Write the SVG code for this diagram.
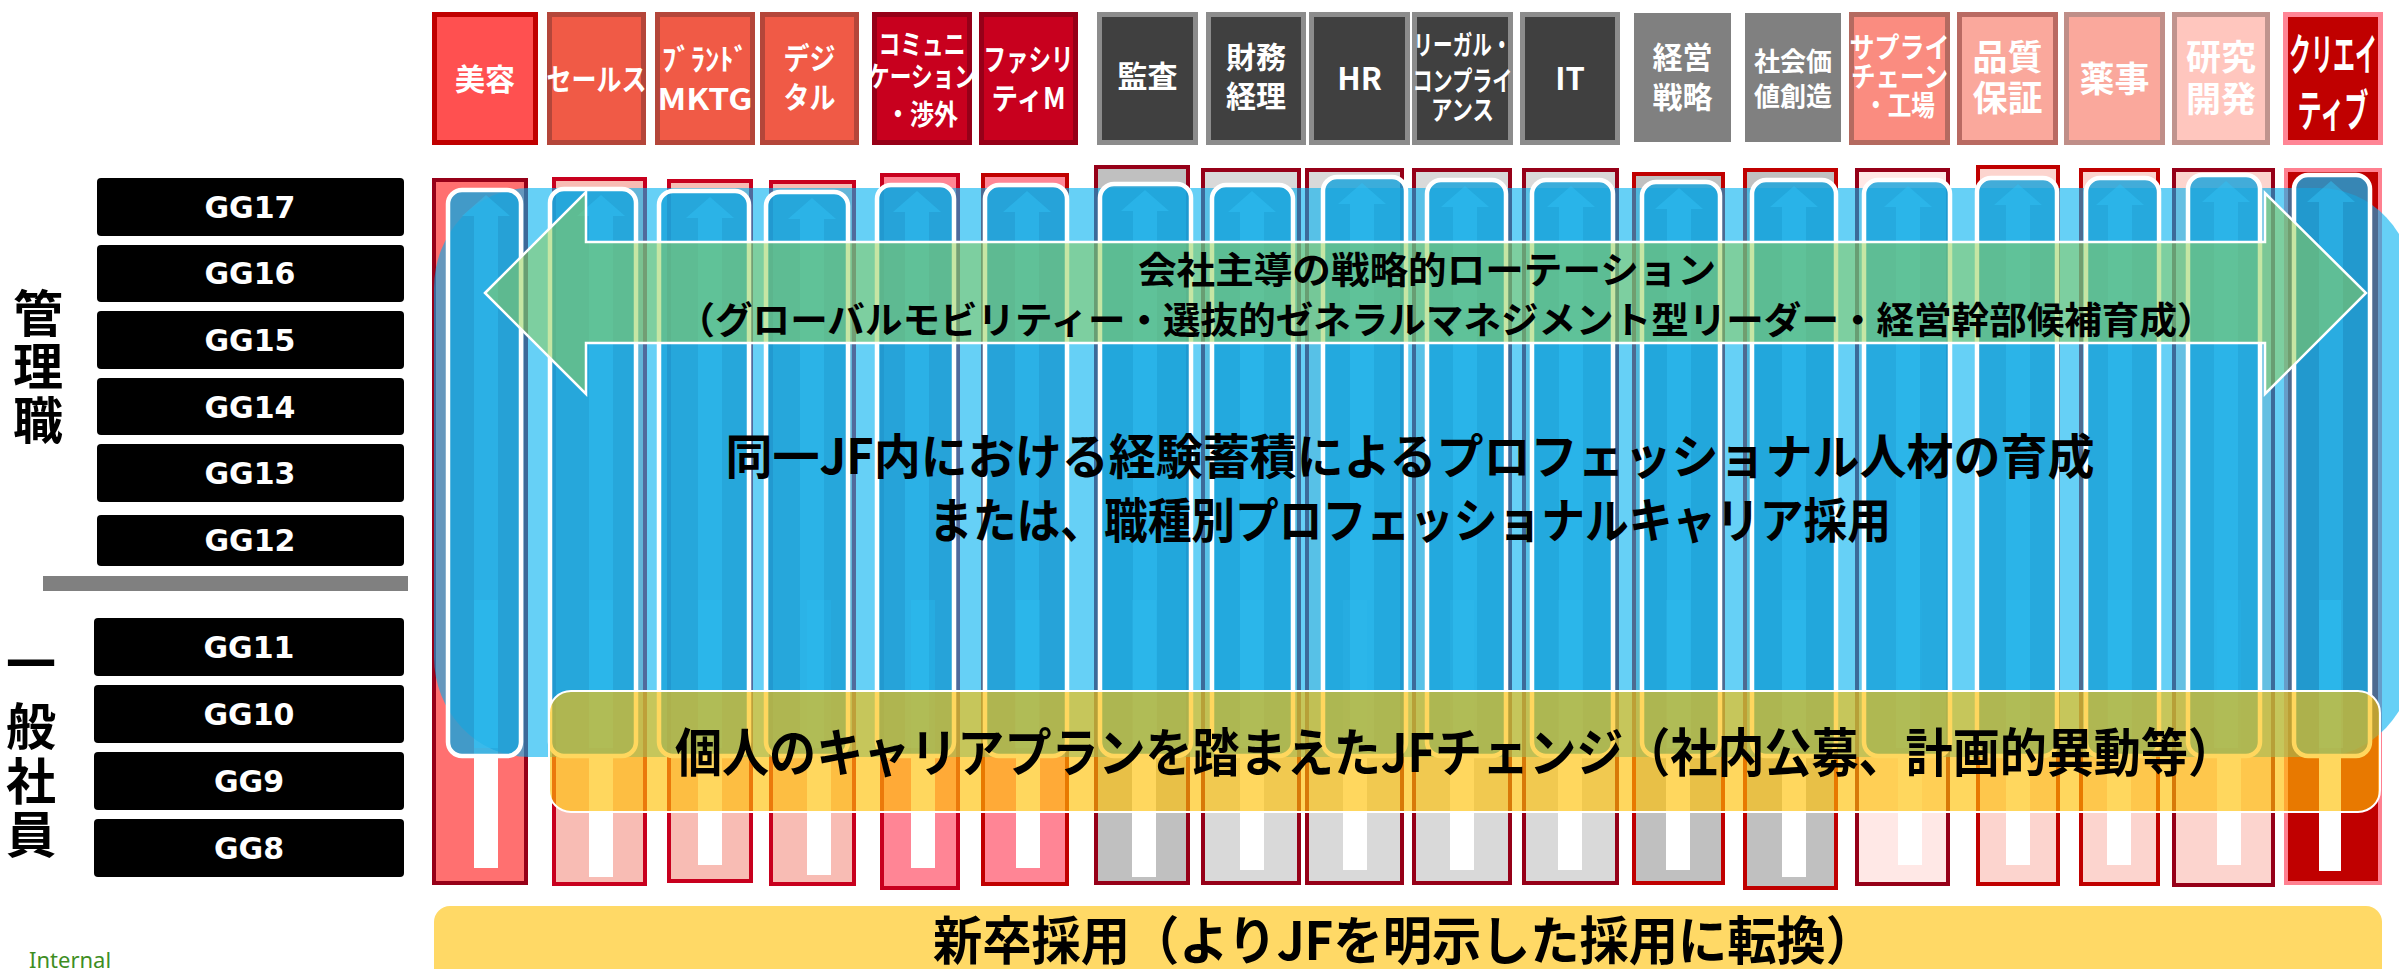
<svg xmlns="http://www.w3.org/2000/svg" width="2399" height="969" viewBox="0 0 2399 969">
<style>
.jp{font-family:"Noto Sans CJK JP","Noto Sans CJK SC",sans-serif;font-weight:700}
.hd{fill:#fff;text-anchor:middle}
.mid{text-anchor:middle;fill:#000}
.gg rect{fill:#000}
.gg text{font-family:"DejaVu Sans",sans-serif;font-weight:700;font-size:30px;fill:#fff;text-anchor:middle}
.lane{stroke-width:4}
.strip{fill:#fff}
.big{fill:#00B0F0;fill-opacity:.6}
.inner{fill:#18A3DC;fill-opacity:.82;stroke:#fff;stroke-width:4.5}
.arw{fill:#2FC0F4;fill-opacity:.5}
.hb{stroke-width:5}
</style>
<rect width="2399" height="969" fill="#fff"/>

<!-- left labels -->
<g id="grade-labels" class="jp" font-size="50" text-anchor="middle" fill="#000">
  <text x="38" y="332">管</text>
  <text x="38" y="385">理</text>
  <text x="38" y="439">職</text>
  <text x="31" y="682">一</text>
  <text x="31" y="745">般</text>
  <text x="31" y="800">社</text>
  <text x="31" y="853">員</text>
</g>
<g id="grades" class="gg">
  <g id="gg17"><rect x="97" y="178" width="307" height="58" rx="4"/><text x="250" y="218">GG17</text></g>
  <g id="gg16"><rect x="97" y="245" width="307" height="57" rx="4"/><text x="250" y="284">GG16</text></g>
  <g id="gg15"><rect x="97" y="311" width="307" height="58" rx="4"/><text x="250" y="351">GG15</text></g>
  <g id="gg14"><rect x="97" y="378" width="307" height="57" rx="4"/><text x="250" y="418">GG14</text></g>
  <g id="gg13"><rect x="97" y="444" width="307" height="58" rx="4"/><text x="250" y="484">GG13</text></g>
  <g id="gg12"><rect x="97" y="515" width="307" height="51" rx="4"/><text x="250" y="551">GG12</text></g>
  <g id="gg11"><rect x="94" y="618" width="310" height="58" rx="4"/><text x="249" y="658">GG11</text></g>
  <g id="gg10"><rect x="94" y="685" width="310" height="58" rx="4"/><text x="249" y="725">GG10</text></g>
  <g id="gg9"><rect x="94" y="752" width="310" height="58" rx="4"/><text x="249" y="792">GG9</text></g>
  <g id="gg8"><rect x="94" y="819" width="310" height="58" rx="4"/><text x="249" y="859">GG8</text></g>
</g>
<rect id="divider" x="43" y="576" width="365" height="15" fill="#808080"/>
<text id="internal" x="29" y="968" font-family="'Noto Sans','Open Sans',sans-serif" font-size="22" fill="#3E8E1F">Internal</text>

<!-- header boxes -->
<g id="headers" class="jp">
  <g id="h1"><rect class="hb" x="434.5" y="14.5" width="101" height="128" fill="#FF5050" stroke="#C00000"/><text class="hd" x="485" y="90" font-size="30">美容</text></g>
  <g id="h2"><rect class="hb" x="549.5" y="14.5" width="94" height="128" fill="#F05A46" stroke="#B4463A"/><text class="hd" x="596.5" y="90" font-size="30" textLength="100" lengthAdjust="spacingAndGlyphs">セールス</text></g>
  <g id="h3"><rect class="hb" x="657.5" y="14.5" width="95" height="128" fill="#F05A46" stroke="#B4463A"/><text class="hd" x="705" y="70" font-size="30" textLength="86" lengthAdjust="spacingAndGlyphs">ﾌﾞﾗﾝﾄﾞ</text><text class="hd" x="705" y="110" font-size="30" textLength="95" lengthAdjust="spacingAndGlyphs">MKTG</text></g>
  <g id="h4"><rect class="hb" x="762.5" y="14.5" width="94" height="128" fill="#F05A46" stroke="#B4463A"/><text class="hd" x="809.5" y="69" font-size="30" textLength="52" lengthAdjust="spacingAndGlyphs">デジ</text><text class="hd" x="809.5" y="108" font-size="30" textLength="52" lengthAdjust="spacingAndGlyphs">タル</text></g>
  <g id="h5"><rect class="hb" x="874.5" y="14.5" width="95" height="128" fill="#C8001E" stroke="#960018"/><text class="hd" x="922" y="55" font-size="28" textLength="87" lengthAdjust="spacingAndGlyphs">コミュニ</text><text class="hd" x="922" y="87" font-size="28" textLength="108" lengthAdjust="spacingAndGlyphs">ケーション</text><text class="hd" x="922" y="125" font-size="28" textLength="72" lengthAdjust="spacingAndGlyphs">・渉外</text></g>
  <g id="h6"><rect class="hb" x="981.5" y="14.5" width="94" height="128" fill="#C8001E" stroke="#960018"/><text class="hd" x="1028.5" y="70" font-size="30" textLength="90" lengthAdjust="spacingAndGlyphs">ファシリ</text><text class="hd" x="1028.5" y="109" font-size="30" textLength="74" lengthAdjust="spacingAndGlyphs">ティM</text></g>
  <g id="h7"><rect class="hb" x="1099.5" y="14.5" width="96" height="128" fill="#404040" stroke="#8C8C8C"/><text class="hd" x="1147.5" y="87" font-size="30">監査</text></g>
  <g id="h8"><rect class="hb" x="1208.5" y="14.5" width="95" height="128" fill="#404040" stroke="#8C8C8C"/><text class="hd" x="1256" y="68" font-size="30">財務</text><text class="hd" x="1256" y="107" font-size="30">経理</text></g>
  <g id="h9"><rect class="hb" x="1311.5" y="14.5" width="96" height="128" fill="#404040" stroke="#8C8C8C"/><text class="hd" x="1359.5" y="90" font-size="31">HR</text></g>
  <g id="h10"><rect class="hb" x="1414.5" y="14.5" width="96" height="128" fill="#404040" stroke="#8C8C8C"/><text class="hd" x="1462.5" y="55" font-size="27" textLength="98" lengthAdjust="spacingAndGlyphs">リーガル・</text><text class="hd" x="1462.5" y="91" font-size="27" textLength="100" lengthAdjust="spacingAndGlyphs">コンプライ</text><text class="hd" x="1462.5" y="120" font-size="27" textLength="63" lengthAdjust="spacingAndGlyphs">アンス</text></g>
  <g id="h11"><rect class="hb" x="1522.5" y="14.5" width="95" height="128" fill="#404040" stroke="#8C8C8C"/><text class="hd" x="1570" y="90" font-size="31">IT</text></g>
  <g id="h12"><rect x="1634" y="13" width="97" height="129" fill="#808080"/><text class="hd" x="1682.5" y="68" font-size="30">経営</text><text class="hd" x="1682.5" y="108" font-size="30">戦略</text></g>
  <g id="h13"><rect x="1745" y="13" width="96" height="129" fill="#808080"/><text class="hd" x="1793" y="71" font-size="26">社会価</text><text class="hd" x="1793" y="106" font-size="26">値創造</text></g>
  <g id="h14"><rect class="hb" x="1851.5" y="14.5" width="96" height="128" fill="#FA8C80" stroke="#B46A60"/><text class="hd" x="1899.5" y="58" font-size="28" textLength="100" lengthAdjust="spacingAndGlyphs">サプライ</text><text class="hd" x="1899.5" y="87" font-size="28" textLength="97" lengthAdjust="spacingAndGlyphs">チェーン</text><text class="hd" x="1899.5" y="116" font-size="28" textLength="71" lengthAdjust="spacingAndGlyphs">・工場</text></g>
  <g id="h15"><rect class="hb" x="1959.5" y="14.5" width="96" height="128" fill="#FAA89C" stroke="#B96A62"/><text class="hd" x="2007.5" y="70" font-size="35">品質</text><text class="hd" x="2007.5" y="111" font-size="35">保証</text></g>
  <g id="h16"><rect class="hb" x="2066.5" y="14.5" width="96" height="128" fill="#FAA89C" stroke="#BF8E88"/><text class="hd" x="2114.5" y="92" font-size="35">薬事</text></g>
  <g id="h17"><rect class="hb" x="2174.5" y="14.5" width="93" height="128" fill="#FFC6BE" stroke="#C0948E"/><text class="hd" x="2221" y="70" font-size="35">研究</text><text class="hd" x="2221" y="112" font-size="35">開発</text></g>
  <g id="h18"><rect class="hb" x="2285.5" y="14.5" width="95" height="128" fill="#C00000" stroke="#FF8595"/><text class="hd" x="2333" y="71" font-size="44" textLength="88" lengthAdjust="spacingAndGlyphs">クリエイ</text><text class="hd" x="2333" y="127" font-size="44" textLength="71" lengthAdjust="spacingAndGlyphs">ティブ</text></g>
</g>

<!-- lane columns (back layer) -->
<g id="lanes">
  <g id="lane1"><rect class="lane" x="434" y="180" width="92" height="703" fill="#FF7070" stroke="#960018"/><rect class="strip" x="474" y="600" width="24" height="268"/></g>
  <g id="lane2"><rect class="lane" x="554" y="179" width="91" height="705" fill="#F8BCB4" stroke="#C8001E"/><rect class="strip" x="589" y="600" width="24" height="277"/></g>
  <g id="lane3"><rect class="lane" x="669" y="181" width="82" height="700" fill="#F8BCB4" stroke="#C8001E"/><rect class="strip" x="698" y="600" width="24" height="265"/></g>
  <g id="lane4"><rect class="lane" x="771" y="182" width="83" height="702" fill="#F8BCB4" stroke="#C8001E"/><rect class="strip" x="807" y="600" width="24" height="275"/></g>
  <g id="lane5"><rect class="lane" x="882" y="175" width="76" height="713" fill="#FF8595" stroke="#C8001E"/><rect class="strip" x="911" y="600" width="24" height="268"/></g>
  <g id="lane6"><rect class="lane" x="983" y="175" width="84" height="709" fill="#FF8595" stroke="#C00000"/><rect class="strip" x="1016" y="600" width="24" height="268"/></g>
  <g id="lane7"><rect class="lane" x="1096" y="167" width="92" height="716" fill="#C0C0C0" stroke="#960018"/><rect class="strip" x="1132" y="600" width="24" height="277"/></g>
  <g id="lane8"><rect class="lane" x="1203" y="170" width="96" height="713" fill="#D9D9D9" stroke="#960018"/><rect class="strip" x="1240" y="600" width="24" height="270"/></g>
  <g id="lane9"><rect class="lane" x="1307" y="170" width="95" height="713" fill="#D9D9D9" stroke="#960018"/><rect class="strip" x="1343" y="600" width="24" height="270"/></g>
  <g id="lane10"><rect class="lane" x="1414" y="170" width="96" height="713" fill="#D9D9D9" stroke="#960018"/><rect class="strip" x="1450" y="600" width="24" height="270"/></g>
  <g id="lane11"><rect class="lane" x="1524" y="170" width="93" height="713" fill="#D9D9D9" stroke="#960018"/><rect class="strip" x="1558" y="600" width="24" height="270"/></g>
  <g id="lane12"><rect class="lane" x="1634" y="174" width="89" height="709" fill="#C0C0C0" stroke="#C00000"/><rect class="strip" x="1666" y="600" width="24" height="270"/></g>
  <g id="lane13"><rect class="lane" x="1745" y="170" width="91" height="718" fill="#C0C0C0" stroke="#C00000"/><rect class="strip" x="1782" y="600" width="24" height="277"/></g>
  <g id="lane14"><rect class="lane" x="1857" y="170" width="91" height="714" fill="#FFE8E6" stroke="#960018"/><rect class="strip" x="1898" y="600" width="24" height="265"/></g>
  <g id="lane15"><rect class="lane" x="1978" y="167" width="80" height="717" fill="#FCD4CE" stroke="#C00000"/><rect class="strip" x="2006" y="600" width="24" height="265"/></g>
  <g id="lane16"><rect class="lane" x="2081" y="170" width="77" height="714" fill="#FCD4CE" stroke="#C00000"/><rect class="strip" x="2107" y="600" width="24" height="265"/></g>
  <g id="lane17"><rect class="lane" x="2174" y="170" width="99" height="715" fill="#FCD4CE" stroke="#960018"/><rect class="strip" x="2217" y="600" width="24" height="265"/></g>
  <g id="lane18"><rect class="lane" x="2286" y="170" width="94" height="713" fill="#C00000" stroke="#FF8090"/><rect class="strip" x="2319" y="600" width="22" height="271"/></g>
</g>

<!-- big translucent area: professional development within JF -->
<rect id="jf-area" class="big" x="434" y="188" width="1980" height="569" rx="95" ry="100"/>

<!-- per-lane upward tracks -->
<g id="tracks">
  <g id="track1"><rect class="inner" x="448" y="190" width="73" height="566" rx="14"/><path class="arw" d="M486 195 L510 216 L498 216 L498 748 L474 748 L474 216 L462 216 Z"/></g>
  <g id="track2"><rect class="inner" x="550" y="189" width="86" height="567" rx="14"/><path class="arw" d="M601 195 L625 216 L613 216 L613 748 L589 748 L589 216 L577 216 Z"/></g>
  <g id="track3"><rect class="inner" x="659" y="191" width="90" height="565" rx="14"/><path class="arw" d="M710 197 L734 218 L722 218 L722 748 L698 748 L698 218 L686 218 Z"/></g>
  <g id="track4"><rect class="inner" x="766" y="192" width="82" height="564" rx="14"/><path class="arw" d="M812 198 L836 219 L824 219 L824 748 L800 748 L800 219 L788 219 Z"/></g>
  <g id="track5"><rect class="inner" x="877" y="185" width="77" height="571" rx="14"/><path class="arw" d="M917 191 L941 212 L929 212 L929 748 L905 748 L905 212 L893 212 Z"/></g>
  <g id="track6"><rect class="inner" x="985" y="185" width="82" height="571" rx="14"/><path class="arw" d="M1027 191 L1051 212 L1039 212 L1039 748 L1015 748 L1015 212 L1003 212 Z"/></g>
  <g id="track7"><rect class="inner" x="1100" y="184" width="91" height="572" rx="14"/><path class="arw" d="M1145 190 L1169 211 L1157 211 L1157 748 L1133 748 L1133 211 L1121 211 Z"/></g>
  <g id="track8"><rect class="inner" x="1212" y="185" width="81" height="571" rx="14"/><path class="arw" d="M1252 191 L1276 212 L1264 212 L1264 748 L1240 748 L1240 212 L1228 212 Z"/></g>
  <g id="track9"><rect class="inner" x="1323" y="177" width="83" height="579" rx="14"/><path class="arw" d="M1362 183 L1386 204 L1374 204 L1374 748 L1350 748 L1350 204 L1338 204 Z"/></g>
  <g id="track10"><rect class="inner" x="1427" y="180" width="79" height="576" rx="14"/><path class="arw" d="M1465 186 L1489 207 L1477 207 L1477 748 L1453 748 L1453 207 L1441 207 Z"/></g>
  <g id="track11"><rect class="inner" x="1532" y="180" width="81" height="576" rx="14"/><path class="arw" d="M1571 186 L1595 207 L1583 207 L1583 748 L1559 748 L1559 207 L1547 207 Z"/></g>
  <g id="track12"><rect class="inner" x="1642" y="182" width="78" height="574" rx="14"/><path class="arw" d="M1679 188 L1703 209 L1691 209 L1691 748 L1667 748 L1667 209 L1655 209 Z"/></g>
  <g id="track13"><rect class="inner" x="1752" y="180" width="84" height="576" rx="14"/><path class="arw" d="M1794 186 L1818 207 L1806 207 L1806 748 L1782 748 L1782 207 L1770 207 Z"/></g>
  <g id="track14"><rect class="inner" x="1864" y="180" width="86" height="576" rx="14"/><path class="arw" d="M1908 186 L1932 207 L1920 207 L1920 748 L1896 748 L1896 207 L1884 207 Z"/></g>
  <g id="track15"><rect class="inner" x="1977" y="178" width="80" height="578" rx="14"/><path class="arw" d="M2018 184 L2042 205 L2030 205 L2030 748 L2006 748 L2006 205 L1994 205 Z"/></g>
  <g id="track16"><rect class="inner" x="2086" y="178" width="73" height="578" rx="14"/><path class="arw" d="M2120 184 L2144 205 L2132 205 L2132 748 L2108 748 L2108 205 L2096 205 Z"/></g>
  <g id="track17"><rect class="inner" x="2188" y="175" width="72" height="581" rx="14"/><path class="arw" d="M2226 181 L2250 202 L2238 202 L2238 748 L2214 748 L2214 202 L2202 202 Z"/></g>
  <g id="track18"><rect class="inner" x="2294" y="175" width="76" height="581" rx="14"/><path class="arw" d="M2331 181 L2355 202 L2343 202 L2343 748 L2319 748 L2319 202 L2307 202 Z"/></g>
</g>

<!-- connectors: rotation arrow -->
<g id="connectors">
  <path id="rotation-arrow" d="M485 293 L586 192 L586 242 L2265 242 L2265 193 L2366 293 L2265 394 L2265 343 L586 343 L586 394 Z" fill="#92D050" fill-opacity=".52" stroke="#fff" stroke-width="2.5" stroke-linejoin="miter"/>
</g>

<g id="rotation-label" class="jp mid" font-size="37">
  <text x="1427" y="284" textLength="578" lengthAdjust="spacingAndGlyphs">会社主導の戦略的ローテーション</text>
  <text x="1446" y="334" textLength="1537" lengthAdjust="spacingAndGlyphs">（グローバルモビリティー・選抜的ゼネラルマネジメント型リーダー・経営幹部候補育成）</text>
</g>

<g id="jf-area-label" class="jp mid" font-size="48">
  <text x="1410" y="474" textLength="1369" lengthAdjust="spacingAndGlyphs">同一JF内における経験蓄積によるプロフェッショナル人材の育成</text>
  <text x="1410" y="538" textLength="962" lengthAdjust="spacingAndGlyphs">または、職種別プロフェッショナルキャリア採用</text>
</g>

<g id="jf-change">
  <rect x="549" y="691" width="1831" height="121" rx="22" fill="#FFC000" fill-opacity=".63" stroke="#fff" stroke-width="2"/>
  <text class="jp mid" x="1455" y="772" font-size="52" textLength="1560" lengthAdjust="spacingAndGlyphs">個人のキャリアプランを踏まえたJFチェンジ（社内公募、計画的異動等）</text>
</g>

<g id="new-grad">
  <rect x="434" y="906" width="1948" height="90" rx="16" fill="#FFD966"/>
  <text class="jp mid" x="1404" y="960" font-size="52" textLength="942" lengthAdjust="spacingAndGlyphs">新卒採用（よりJFを明示した採用に転換）</text>
</g>
</svg>
